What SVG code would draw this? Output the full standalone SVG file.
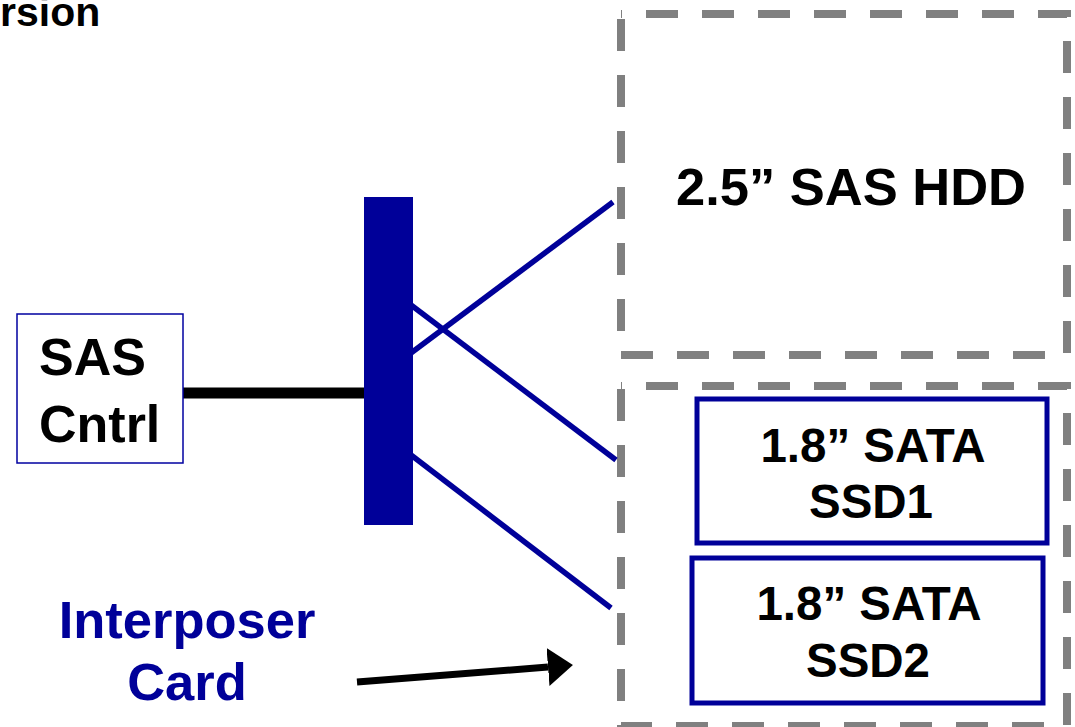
<svg xmlns="http://www.w3.org/2000/svg" width="1075" height="727" viewBox="0 0 1075 727">
<style>
.dash{fill:none;stroke:#808080;stroke-width:8;stroke-dasharray:32 24;stroke-dashoffset:31}
.t{font-family:"Liberation Sans",Arial,sans-serif;font-weight:bold;fill:#000}
.box{fill:#fff;stroke:#000099;stroke-width:5}
.link{stroke:#000099;stroke-width:5.5;fill:none}
</style>
<defs>
<marker id="ah" viewBox="0 0 25 38" refX="0" refY="19" markerWidth="25" markerHeight="38" markerUnits="userSpaceOnUse" orient="auto">
<path d="M0,0 L25,19 L0,38 Z" fill="#000"/>
</marker>
</defs>
<rect width="1075" height="727" fill="#fff"/>
<text class="t" x="0" y="26" font-size="41">rsion</text>
<g id="hdd-slot">
<path class="dash" d="M621,14 H1067 V355 H621 Z"/>
<text class="t" x="851" y="205" font-size="52.5" text-anchor="middle">2.5” SAS HDD</text>
</g>
<g id="ssd-slot">
<path class="dash" d="M621,386 H1067 V726 H621 Z"/>
</g>
<g id="connectors">
<line x1="183" y1="393" x2="368" y2="393" stroke="#000" stroke-width="11"/>
<line class="link" x1="411" y1="353" x2="613" y2="202"/>
<line class="link" x1="411" y1="305" x2="616" y2="460"/>
<line class="link" x1="411" y1="455" x2="611" y2="608"/>
<line x1="357" y1="682" x2="548" y2="667" stroke="#000" stroke-width="7" marker-end="url(#ah)"/>
</g>
<g id="sas-cntrl">
<rect x="17" y="314" width="166" height="149" fill="#fff" stroke="#0000a0" stroke-width="1.5"/>
<text class="t" x="39" y="375" font-size="52">SAS</text>
<text class="t" x="39" y="442" font-size="52">Cntrl</text>
</g>
<g id="interposer-bar">
<rect x="364" y="197" width="49" height="328" fill="#000099"/>
</g>
<g id="ssd1">
<rect class="box" x="697" y="399" width="350" height="144"/>
<text class="t" x="873" y="462" font-size="47.5" text-anchor="middle">1.8” SATA</text>
<text class="t" x="871" y="518" font-size="47.5" text-anchor="middle">SSD1</text>
</g>
<g id="ssd2">
<rect class="box" x="692" y="558" width="351" height="145"/>
<text class="t" x="869" y="620" font-size="47.5" text-anchor="middle">1.8” SATA</text>
<text class="t" x="868" y="677" font-size="47.5" text-anchor="middle">SSD2</text>
</g>
<g id="interposer-label">
<text class="t" x="187" y="638" font-size="52.5" text-anchor="middle" style="fill:#000099">Interposer</text>
<text class="t" x="187" y="700" font-size="52.5" text-anchor="middle" style="fill:#000099">Card</text>
</g>
</svg>
